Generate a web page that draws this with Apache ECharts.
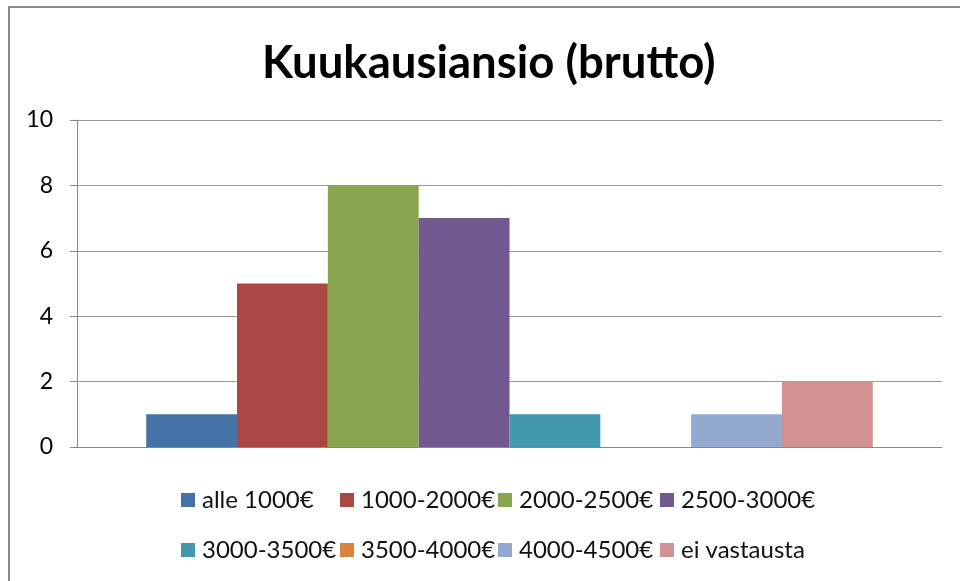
<!DOCTYPE html>
<html>
<head>
<meta charset="utf-8">
<script src="https://cdn.jsdelivr.net/npm/echarts@6/dist/echarts.min.js"></script>
<style>html,body{margin:0;padding:0;background:#fff}#c{width:960px;height:581px}</style>
</head>
<body>
<div id="c"></div>
<script>
const title = 'Kuukausiansio (brutto)';
const categories = [''];
const seriesNames = ['alle 1000€', '1000-2000€', '2000-2500€', '2500-3000€', '3000-3500€', '3500-4000€', '4000-4500€', 'ei vastausta'];
const seriesValues = [1, 5, 8, 7, 1, 0, 1, 2];
const colors = ['#4572A7', '#AA4643', '#89A54E', '#71588F', '#4198AF', '#DB843D', '#93A9CF', '#D19392'];
const yTicks = { min: 0, max: 10, interval: 2 };

const font = 'Lato';
const legendCols = [181, 340, 498, 660];
const legendRows = [488, 538];
const chart = echarts.init(document.getElementById('c'));
const legendText = { fontFamily: font, fontSize: 24, color: '#111', padding: [0, 0, 0, 2] };
chart.setOption({
  animation: false,
  color: colors,
  title: {
    text: title, left: 257, top: 35,
    textStyle: { fontFamily: font, fontSize: 45.5, fontWeight: 'bold', color: '#000' }
  },
  graphic: [{
    type: 'rect', shape: { x: 9, y: 7, width: 1100, height: 1100 },
    style: { fill: 'none', stroke: '#8a8a8a', lineWidth: 2 }, silent: true
  }],
  legend: seriesNames.map((n, i) => ({
    data: [n], left: legendCols[i % 4], top: legendRows[Math.floor(i / 4)],
    itemWidth: 14, itemHeight: 14, icon: 'rect', padding: 0, textStyle: legendText
  })),
  grid: { left: 77, right: 18, top: 120, bottom: 134 },
  xAxis: {
    type: 'category', data: categories,
    axisLine: { lineStyle: { color: '#888' } }, axisTick: { show: false }, axisLabel: { show: false }
  },
  yAxis: {
    type: 'value', min: yTicks.min, max: yTicks.max, interval: yTicks.interval,
    axisLine: { show: true, lineStyle: { color: '#888' } },
    axisTick: { show: true, length: 7, lineStyle: { color: '#888' } },
    splitLine: { lineStyle: { color: '#999' } },
    axisLabel: { fontFamily: font, fontSize: 23, color: '#000', margin: 24 }
  },
  series: seriesNames.map((n, i) => ({
    name: n, type: 'bar', data: [seriesValues[i]],
    barGap: '0%', barCategoryGap: '16%'
  }))
});
</script>
</body>
</html>
